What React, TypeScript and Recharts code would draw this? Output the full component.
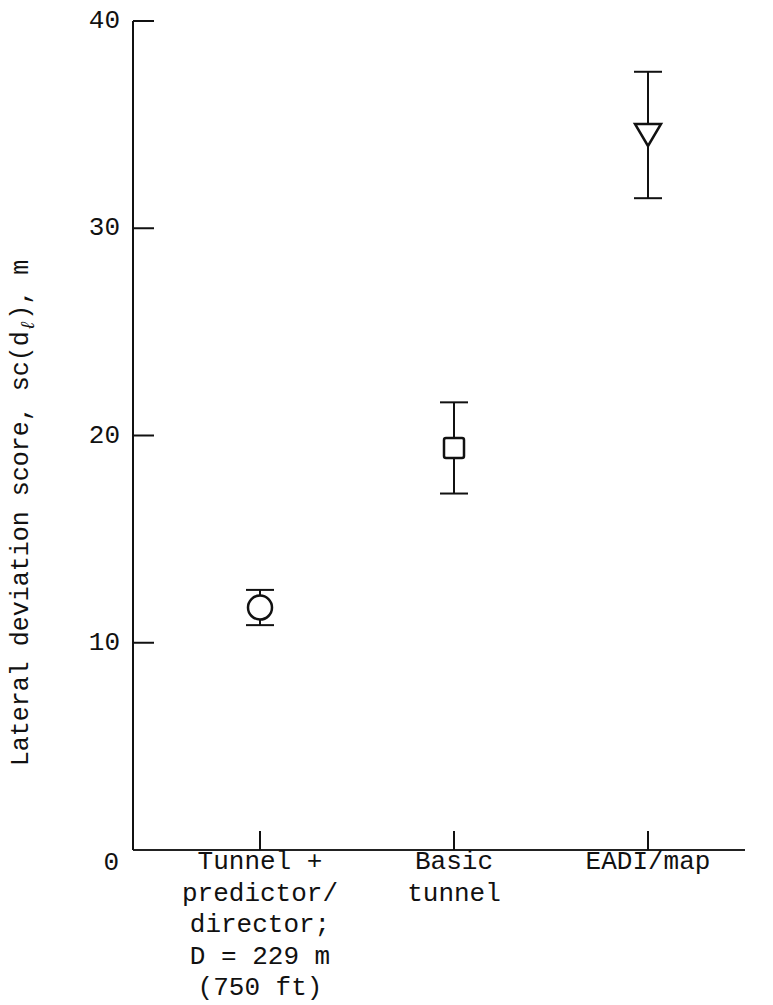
import React from 'react';
import { ComposedChart, Scatter, ErrorBar, XAxis, YAxis, Label } from 'recharts';

// display names and the wrapped label lines under each tick
const categories = ['Tunnel + predictor/director', 'Basic tunnel', 'EADI/map'];
const categoryLines = [
  ['Tunnel +', 'predictor/', 'director;', 'D = 229 m', '(750 ft)'],
  ['Basic', 'tunnel'],
  ['EADI/map'],
];
const scores = [11.7, 19.4, 34.5];
const errors = [0.85, 2.2, 3.05];
const yTicks = [0, 10, 20, 30, 40];

const FONT = '"Liberation Mono", "DejaVu Sans Mono", monospace';
const INK = '#111';
const LINE_STEP = 31.5;

const rows = categories.map((name, i) => ({
  name,
  score: scores[i],
  err: errors[i],
}));

const XTick = (props: any) => {
  const { x, y, payload } = props;
  const idx = categories.indexOf(payload.value);
  const lines = categoryLines[idx] ?? [];
  return (
    <g>
      <line x1={x} x2={x} y1={y} y2={y - 19} stroke={INK} strokeWidth={2} />
      <text
        x={x}
        y={y + 19}
        textAnchor='middle'
        fontFamily={FONT}
        fontSize={26}
        fill={INK}
      >
        {lines.map((l, i) => (
          <tspan key={i} x={x} dy={i === 0 ? 0 : LINE_STEP}>
            {l}
          </tspan>
        ))}
      </text>
    </g>
  );
};

const YTick = (props: any) => {
  const { x, y, payload } = props;
  const v = payload.value;
  if (v === 0) {
    return (
      <text
        x={x - 14}
        y={y + 13}
        textAnchor='end'
        dominantBaseline='central'
        fontFamily={FONT}
        fontSize={26}
        fill={INK}
      >
        0
      </text>
    );
  }
  return (
    <g>
      <line x1={x} x2={x + 21} y1={y} y2={y} stroke={INK} strokeWidth={2} />
      <text
        x={x - 13}
        y={y}
        textAnchor='end'
        dominantBaseline='central'
        fontFamily={FONT}
        fontSize={26}
        fill={INK}
      >
        {v}
      </text>
    </g>
  );
};

const YLabel = () => (
  <text
    transform='rotate(-90, 21, 513)'
    x={21}
    y={513}
    textAnchor='middle'
    dominantBaseline='central'
    fontFamily={FONT}
    fontSize={25}
    fill={INK}
  >
    Lateral deviation score, sc(d
    <tspan fontSize={19} dy={8} fontStyle='italic'>
      ℓ
    </tspan>
    <tspan dy={-8}>), m</tspan>
  </text>
);

// open marker per condition: circle, square, down triangle
const Marker = (props: any) => {
  const { cx, cy, payload } = props;
  const idx = categories.indexOf(payload?.name);
  const common = { fill: '#fff', stroke: INK, strokeWidth: 2.5 };
  if (idx === 0) return <circle cx={cx} cy={cy} r={12} {...common} />;
  if (idx === 1)
    return <rect x={cx - 10} y={cy - 10} width={20} height={20} rx={2} {...common} />;
  return (
    <path
      d={`M${cx - 13},${cy - 11} L${cx + 13},${cy - 11} L${cx},${cy + 11} Z`}
      {...common}
      strokeLinejoin='miter'
    />
  );
};

export default function App() {
  return (
    <div style={{ position: 'absolute', left: 0, top: 0, background: '#fff' }}>
      <ComposedChart
        width={773}
        height={1005}
        data={rows}
        margin={{ top: 21, right: 28, left: 73, bottom: 15 }}
      >
        <XAxis
          dataKey='name'
          type='category'
          height={140}
          padding={{ left: 127, right: 97 }}
          axisLine={{ stroke: '#222', strokeWidth: 2 }}
          tickLine={false}
          tickSize={0}
          tickMargin={0}
          tick={<XTick />}
          interval={0}
        />
        <YAxis
          type='number'
          domain={[0, 40]}
          ticks={yTicks}
          width={60}
          axisLine={{ stroke: INK, strokeWidth: 2 }}
          tickLine={false}
          tickSize={0}
          tickMargin={0}
          tick={<YTick />}
          interval={0}
        >
          <Label content={YLabel} />
        </YAxis>
        <Scatter dataKey='score' shape={Marker} isAnimationActive={false}>
          <ErrorBar
            dataKey='err'
            direction='y'
            width={14}
            stroke={INK}
            strokeWidth={2}
          />
        </Scatter>
      </ComposedChart>
    </div>
  );
}
